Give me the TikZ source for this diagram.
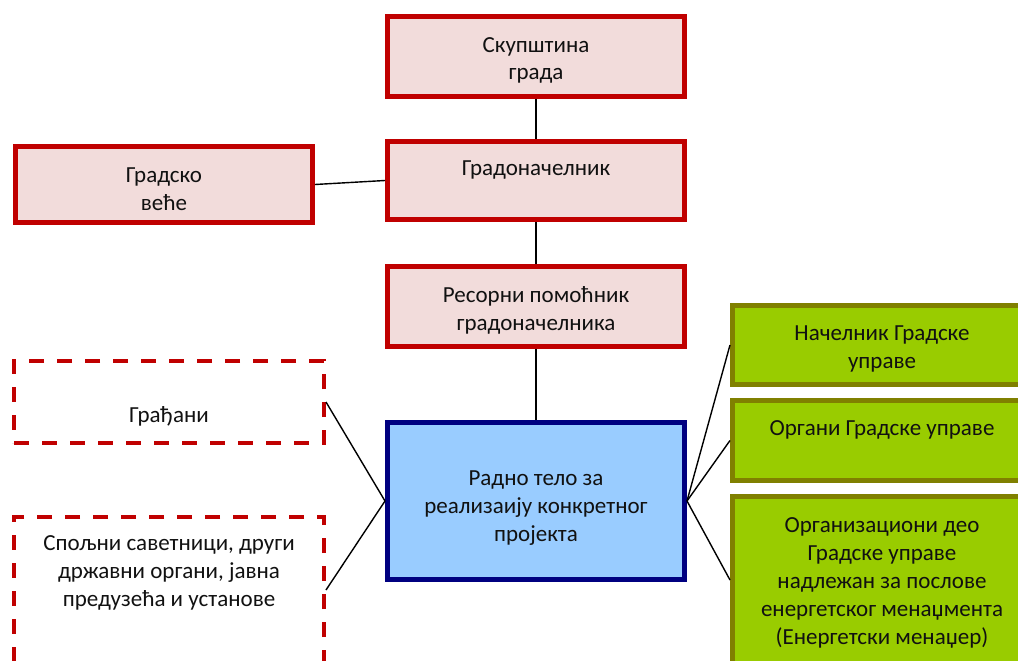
\documentclass[tikz,border=0pt]{standalone}
\usepackage{fontspec}
\setmainfont{Carlito}
\newcommand{\sst}{\rule[-8pt]{0pt}{28pt}}
\definecolor{rborder}{HTML}{C00000}
\definecolor{rfill}{HTML}{F2DCDB}
\definecolor{bborder}{HTML}{000080}
\definecolor{bfill}{HTML}{99CCFF}
\definecolor{gborder}{HTML}{808000}
\definecolor{gfill}{HTML}{99CC00}
\definecolor{txt}{HTML}{111111}
\tikzset{
  redbox/.style={draw=rborder, fill=rfill, line width=5pt, minimum width=297pt, inner sep=0pt},
  bluebox/.style={draw=bborder, fill=bfill, line width=5pt, minimum width=297pt, inner sep=0pt},
  greenbox/.style={draw=gborder, fill=gfill, line width=5pt, minimum width=290pt, inner sep=0pt},
  dashbox/.style={draw=rborder, line width=4pt, dash pattern=on 15pt off 13pt, minimum width=310pt, inner sep=0pt},
  lbl/.style={align=center, inner sep=0pt, text=txt, font=\fontsize{23}{28}\selectfont},
  conn/.style={draw=black, line width=1.4pt}
}
\begin{document}
\begin{tikzpicture}[x=1pt,y=-1pt]
\useasboundingbox (0,0) rectangle (1018,661);
\clip (0,0) rectangle (1018,661);
% boxes
\node[redbox, minimum height=80pt] (skup) at (536,56.5) {};
\node[redbox, minimum height=78pt] (grad) at (536,180.5) {};
\node[redbox, minimum height=76pt] (vece) at (164,184.5) {};
\node[redbox, minimum height=80pt] (res) at (536,306.5) {};
\node[bluebox, minimum height=157pt] (radno) at (536,501) {};
\node[dashbox, minimum height=82pt] (gradj) at (169,402) {};
\node[dashbox, minimum height=146pt] (spolj) at (169,590) {};
\node[greenbox, minimum height=79pt] (g1) at (877.5,345) {};
\node[greenbox, minimum height=80pt] (g2) at (877.5,440.5) {};
\node[greenbox, minimum height=167pt] (g3) at (877.5,580) {};
% connectors
\draw[conn] (skup.south) -- (grad.north);
\draw[conn] (grad.south) -- (res.north);
\draw[conn] (res.south) -- (radno.north);
\draw[conn] (vece.east) -- (grad.west);
\draw[conn] (gradj.east) -- (radno.west);
\draw[conn] (spolj.east) -- (radno.west);
\draw[conn] (radno.east) -- (g1.west);
\draw[conn] (radno.east) -- (g2.west);
\draw[conn] (radno.east) -- (g3.west);
% labels
\node[lbl] (tskup) at (536,60) {\sst Скупштина\\\sst града};
\node[lbl] (tgrad) at (536,169) {\sst Градоначелник};
\node[lbl] (tvece) at (164,190) {\sst Градско\\\sst веће};
\node[lbl] (tres) at (536,310) {\sst Ресорни помоћник\\\sst градоначелника};
\node[lbl] (tradno) at (536,507) {\sst Радно тело за\\\sst реализаију конкретног\\\sst пројекта};
\node[lbl] (tgradj) at (169,416) {\sst Грађани};
\node[lbl] (tspolj) at (169,572) {\sst Спољни саветници, други\\\sst државни органи, јавна\\\sst предузећа и установе};
\node[lbl] (tg1) at (882,348) {\sst Начелник Градске\\\sst управе};
\node[lbl] (tg2) at (882,429) {\sst Органи Градске управе};
\node[lbl] (tg3) at (882,582.5) {\sst Организациони део\\\sst Градске управе\\\sst надлежан за послове\\\sst енергетског менаџмента\\\sst (Енергетски менаџер)};
\end{tikzpicture}
\end{document}
